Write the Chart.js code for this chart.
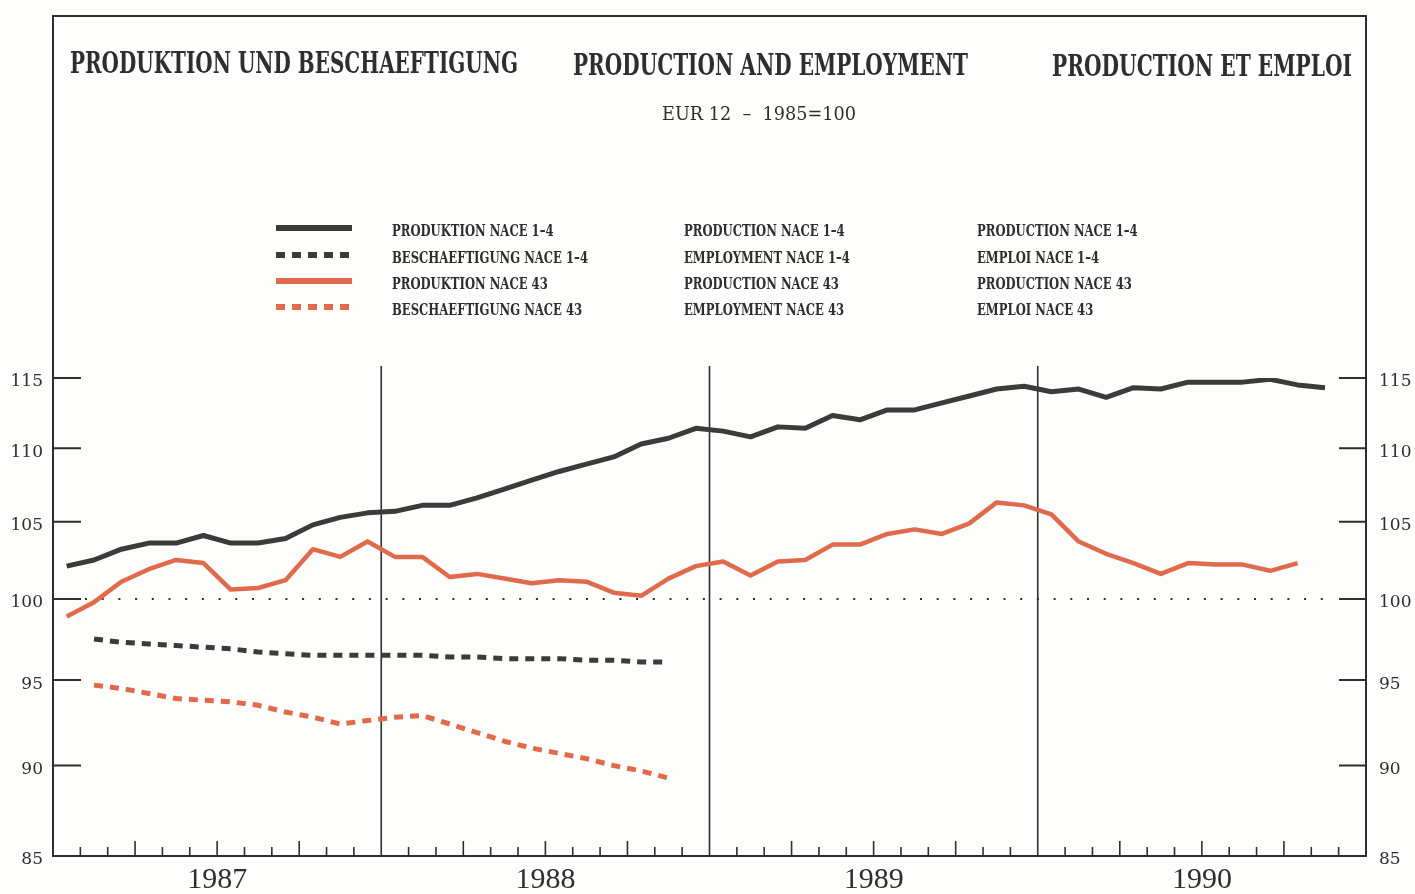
<!DOCTYPE html>
<html>
<head>
<meta charset="utf-8">
<title>Produktion und Beschaeftigung</title>
<script src="https://cdn.jsdelivr.net/npm/chart.js@4.4.0/dist/chart.umd.min.js"></script>
<style>
  html, body { margin: 0; padding: 0; background: #fdfdfc; }
  canvas { display: block; }
</style>
</head>
<body>
<canvas id="prodChart" width="1415" height="894"></canvas>
<script>
// Monthly indices, EUR 12, 1985 = 100
var years = ['1987', '1988', '1989', '1990'];
var yTicks = [85, 90, 95, 100, 105, 110, 115];
var baseValue = 100;

// Produktion NACE 1-4, Jan 1987 - Nov 1990
var prodNace14 = [
    102.1, 102.5, 103.2, 103.6, 103.6, 104.1, 103.6, 103.6, 103.9, 104.8, 105.3, 105.6,
    105.7, 106.1, 106.1, 106.6, 107.2, 107.8, 108.4, 108.9, 109.4, 110.3, 110.7, 111.4,
    111.2, 110.8, 111.5, 111.4, 112.3, 112.0, 112.7, 112.7, 113.2, 113.7, 114.2, 114.4,
    114.0, 114.2, 113.6, 114.3, 114.2, 114.7, 114.7, 114.7, 114.9, 114.5, 114.3
];

// Produktion NACE 43, Jan 1987 - Oct 1990
var prodNace43 = [
    98.9, 99.8, 101.1, 101.9, 102.5, 102.3, 100.6, 100.7, 101.2, 103.2, 102.7, 103.7,
    102.7, 102.7, 101.4, 101.6, 101.3, 101.0, 101.2, 101.1, 100.4, 100.2, 101.3, 102.1,
    102.4, 101.5, 102.4, 102.5, 103.5, 103.5, 104.2, 104.5, 104.2, 104.9, 106.3, 106.1,
    105.5, 103.7, 102.9, 102.3, 101.6, 102.3, 102.2, 102.2, 101.8, 102.3
];

// Beschaeftigung series run Feb 1987 - Nov 1988
var emplStart = 1;
var emplNace14 = [
    97.5, 97.3, 97.2, 97.1, 97.0, 96.9, 96.7, 96.6, 96.5, 96.5, 96.5,
    96.5, 96.5, 96.4, 96.4, 96.3, 96.3, 96.3, 96.2, 96.2, 96.1, 96.1
];
var emplNace43 = [
    94.7, 94.5, 94.2, 93.9, 93.8, 93.7, 93.5, 93.1, 92.8, 92.4, 92.6,
    92.8, 92.9, 92.4, 91.9, 91.4, 91.0, 90.7, 90.4, 90.0, 89.7, 89.3
];

// Headings and legend texts (DE / EN / FR)
var titles = ['PRODUKTION UND BESCHAEFTIGUNG', 'PRODUCTION AND EMPLOYMENT', 'PRODUCTION ET EMPLOI'];
var subtitle = 'EUR 12  \u2013  1985=100';
var legendDe = ['PRODUKTION NACE 1\u20134', 'BESCHAEFTIGUNG NACE 1\u20134', 'PRODUKTION NACE 43', 'BESCHAEFTIGUNG NACE 43'];
var legendEn = ['PRODUCTION NACE 1\u20134', 'EMPLOYMENT NACE 1\u20134', 'PRODUCTION NACE 43', 'EMPLOYMENT NACE 43'];
var legendFr = ['PRODUCTION NACE 1\u20134', 'EMPLOI NACE 1\u20134', 'PRODUCTION NACE 43', 'EMPLOI NACE 43'];

var ink = '#2e2e2e';
var dark = '#3b3b3b';
var salmon = '#e06a4c';

// month index -> point in the middle of that month
function toPoints(values, start) {
    return values.map(function (v, i) {
        return { x: start + i + 0.5, y: v };
    });
}

// draw text squeezed horizontally so that it spans a given width
function fitText(ctx, text, x, y, width) {
    var w = ctx.measureText(text).width;
    ctx.save();
    ctx.translate(x, y);
    ctx.scale(width / w, 1);
    ctx.fillText(text, 0, 0);
    ctx.restore();
}

function scaledText(ctx, text, x, y, sx) {
    ctx.save();
    ctx.translate(x, y);
    ctx.scale(sx, 1);
    ctx.fillText(text, 0, 0);
    ctx.restore();
}

// Frame, axis ticks, year dividers, 100 line, headings and legend
var decorations = {
    id: 'decorations',
    beforeDatasetsDraw: function (chart) {
        var ctx = chart.ctx;
        var area = chart.chartArea;
        var x = chart.scales.x;
        var y = chart.scales.y;
        var frameTop = 16;

        ctx.save();
        ctx.strokeStyle = ink;
        ctx.lineWidth = 2;
        ctx.beginPath();
        ctx.moveTo(area.left, area.top);
        ctx.lineTo(area.left, frameTop);
        ctx.lineTo(area.right, frameTop);
        ctx.lineTo(area.right, area.top);
        ctx.stroke();

        // value ticks pointing inwards on both sides
        yTicks.forEach(function (v) {
            if (v === yTicks[0]) return;
            var py = y.getPixelForValue(v);
            ctx.beginPath();
            ctx.moveTo(area.left, py);
            ctx.lineTo(area.left + 28, py);
            ctx.moveTo(area.right - 27, py);
            ctx.lineTo(area.right, py);
            ctx.stroke();
        });

        // month ticks, longer at quarters, full lines at year ends
        ctx.lineWidth = 1.6;
        for (var m = 1; m < years.length * 12; m++) {
            var px = x.getPixelForValue(m);
            ctx.beginPath();
            if (m % 12 === 0) {
                ctx.moveTo(px, area.top - 12);
                ctx.lineTo(px, area.bottom);
            } else {
                ctx.moveTo(px, area.bottom);
                ctx.lineTo(px, area.bottom - (m % 3 === 0 ? 15 : 9));
            }
            ctx.stroke();
        }

        // dotted base line at 100
        var by = y.getPixelForValue(baseValue);
        ctx.lineWidth = 2;
        ctx.setLineDash([2, 14.7]);
        ctx.beginPath();
        ctx.moveTo(area.left + 32, by);
        ctx.lineTo(area.right - 30, by);
        ctx.stroke();
        ctx.restore();
    },
    afterDraw: function (chart) {
        var ctx = chart.ctx;
        ctx.save();
        ctx.fillStyle = ink;
        ctx.textBaseline = 'middle';
        ctx.textAlign = 'left';

        ctx.font = 'bold 29px "DejaVu Serif"';
        fitText(ctx, titles[0], 70, 65, 448);
        fitText(ctx, titles[1], 573, 67, 395);
        fitText(ctx, titles[2], 1052, 68, 300);

        ctx.font = '18px "DejaVu Serif"';
        fitText(ctx, subtitle, 662, 115, 194);

        // legend: sample line plus three language columns
        var rows = [232, 259, 285, 311];
        var datasets = chart.data.datasets;
        ctx.font = 'bold 16px "DejaVu Serif"';
        var sx = 196 / ctx.measureText(legendDe[1]).width;
        rows.forEach(function (ry, i) {
            var ds = datasets[i];
            ctx.save();
            ctx.strokeStyle = ds.borderColor;
            ctx.lineWidth = 6;
            ctx.setLineDash(ds.borderDash || []);
            ctx.beginPath();
            ctx.moveTo(276, ry - 4);
            ctx.lineTo(352, ry - 4);
            ctx.stroke();
            ctx.restore();

            scaledText(ctx, legendDe[i], 392, ry, sx);
            scaledText(ctx, legendEn[i], 684, ry, sx);
            scaledText(ctx, legendFr[i], 977, ry, sx);
        });
        ctx.restore();
    }
};

// Define data
var data = {
    datasets: [{
        label: legendDe[0],
        data: toPoints(prodNace14, 0),
        borderColor: dark,
        borderWidth: 5
    }, {
        label: legendDe[1],
        data: toPoints(emplNace14, emplStart),
        borderColor: dark,
        borderWidth: 5,
        borderDash: [9, 7]
    }, {
        label: legendDe[2],
        data: toPoints(prodNace43, 0),
        borderColor: salmon,
        borderWidth: 4.5
    }, {
        label: legendDe[3],
        data: toPoints(emplNace43, emplStart),
        borderColor: salmon,
        borderWidth: 5,
        borderDash: [9, 7]
    }]
};

function valueAxis(position, padding, width) {
    return {
        type: 'logarithmic',
        position: position,
        min: yTicks[0],
        max: yTicks[yTicks.length - 1],
        afterBuildTicks: function (scale) {
            scale.ticks = yTicks.map(function (v) { return { value: v }; });
        },
        afterFit: function (scale) { scale.width = width; },
        grid: { display: false, drawTicks: false },
        border: { display: true, color: ink, width: 2 },
        ticks: {
            padding: padding,
            labelOffset: 4,
            color: ink,
            font: { family: 'DejaVu Serif', size: 17 },
            callback: function (v) { return String(v); }
        }
    };
}

// Define options
var options = {
    responsive: false,
    animation: false,
    devicePixelRatio: 1,
    layout: { padding: { top: 378, left: 0, right: 0, bottom: 0 } },
    elements: {
        line: { tension: 0, borderJoinStyle: 'round', borderCapStyle: 'butt', fill: false },
        point: { radius: 0 }
    },
    scales: {
        x: {
            type: 'linear',
            min: 0,
            max: years.length * 12,
            afterBuildTicks: function (scale) {
                scale.ticks = years.map(function (yr, i) { return { value: i * 12 + 6 }; });
            },
            afterFit: function (scale) { scale.height = 38; },
            grid: { display: false, drawTicks: false },
            border: { display: true, color: ink, width: 2 },
            ticks: {
                padding: 6,
                maxRotation: 0,
                color: ink,
                font: { family: 'Liberation Serif', size: 30 },
                callback: function (v) { return years[Math.floor(v / 12)]; }
            }
        },
        y: valueAxis('left', 10, 53),
        y2: valueAxis('right', 13, 49)
    },
    plugins: {
        legend: { display: false },
        tooltip: { enabled: false }
    }
};

// Create the chart
var ctx = document.getElementById('prodChart').getContext('2d');
var prodChart = new Chart(ctx, {
    type: 'line',
    data: data,
    options: options,
    plugins: [decorations]
});
</script>
</body>
</html>
